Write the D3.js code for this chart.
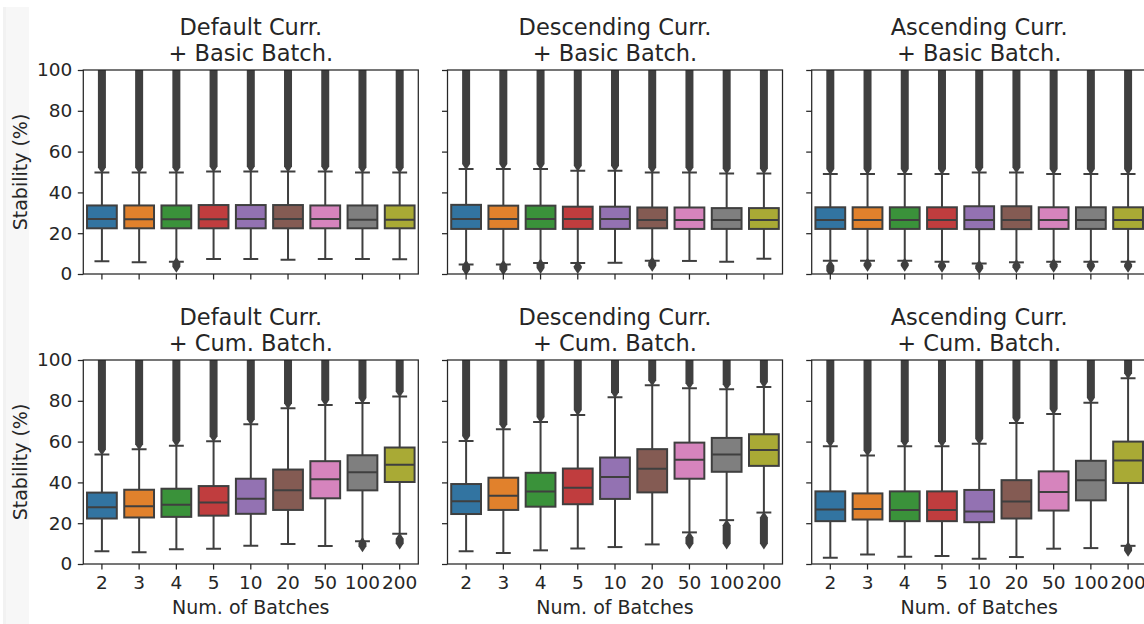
<!DOCTYPE html>
<html>
<head>
<meta charset="utf-8">
<script src="https://cdn.jsdelivr.net/npm/d3@7"></script>
<style>
  html, body { margin: 0; padding: 0; background: #ffffff; }
  svg { display: block; }
  text { font-family: "DejaVu Sans", sans-serif; fill: #262626; }
</style>
</head>
<body>
<svg id="chart" width="1144" height="624"></svg>
<script>
// Batch counts on the x axis
const categories = ["2", "3", "4", "5", "10", "20", "50", "100", "200"];

// Panel titles (two lines each), row-major: basic batching on top, cumulative below
const panelTitles = [
  ["Default Curr.", "+ Basic Batch."],
  ["Descending Curr.", "+ Basic Batch."],
  ["Ascending Curr.", "+ Basic Batch."],
  ["Default Curr.", "+ Cum. Batch."],
  ["Descending Curr.", "+ Cum. Batch."],
  ["Ascending Curr.", "+ Cum. Batch."]
];

const yTicks = [0, 20, 40, 60, 80, 100];

// Box statistics (stability %), one row per panel, one value per batch count
const q1s = [
  [22.4, 22.4, 22.4, 22.4, 22.4, 22.4, 22.4, 22.4, 22.4],
  [22.1, 22.1, 22.1, 22.1, 22.1, 22.4, 22.1, 22.1, 22.1],
  [22.1, 22.1, 22.1, 22.1, 22.0, 22.0, 22.1, 22.1, 22.1],
  [22.3, 22.8, 23.1, 23.7, 24.6, 26.5, 32.2, 36.1, 40.2],
  [24.5, 26.5, 28.1, 29.3, 31.9, 35.1, 41.8, 45.2, 48.1],
  [21.0, 21.8, 21.0, 21.0, 20.5, 22.3, 26.2, 31.2, 39.7]
];
const medians = [
  [27.0, 26.8, 26.8, 26.8, 27.0, 27.0, 27.0, 26.6, 26.6],
  [27.0, 27.0, 27.0, 27.0, 27.0, 26.5, 26.5, 26.5, 26.5],
  [26.5, 26.5, 26.5, 26.5, 26.5, 26.5, 26.5, 26.5, 26.5],
  [27.8, 28.3, 29.1, 30.1, 32.0, 36.1, 41.6, 45.0, 48.6],
  [30.7, 33.5, 35.6, 37.4, 42.6, 46.7, 51.1, 53.7, 55.9],
  [26.7, 27.0, 26.5, 26.5, 25.7, 30.6, 35.3, 41.0, 50.7]
];
const q3s = [
  [33.6, 33.6, 33.6, 33.8, 33.8, 33.8, 33.6, 33.6, 33.6],
  [33.9, 33.5, 33.5, 33.0, 33.0, 32.6, 32.6, 32.3, 32.3],
  [32.7, 32.7, 32.7, 32.7, 33.2, 33.2, 32.7, 32.7, 32.7],
  [35.0, 36.4, 36.9, 38.2, 41.8, 46.3, 50.4, 53.3, 57.1],
  [39.2, 42.3, 44.7, 46.8, 52.2, 56.3, 59.5, 61.8, 63.6],
  [35.6, 34.6, 35.6, 35.6, 36.3, 41.1, 45.4, 50.6, 60.0]
];
const whiskerLows = [
  [6.3, 5.8, 6.0, 7.3, 7.4, 7.0, 7.4, 7.4, 7.2],
  [4.6, 4.7, 5.4, 5.4, 5.5, 6.5, 6.4, 6.0, 7.5],
  [6.5, 6.5, 6.5, 6.0, 5.2, 5.7, 6.0, 6.0, 6.0],
  [6.3, 5.7, 7.2, 7.5, 8.9, 9.8, 8.8, 11.1, 14.8],
  [6.2, 5.4, 6.7, 7.6, 8.3, 9.6, 15.5, 21.5, 25.2],
  [3.1, 4.7, 3.6, 3.9, 2.6, 3.4, 7.5, 7.8, 8.9]
];
const whiskerHighs = [
  [49.7, 49.7, 49.7, 50.3, 50.3, 50.3, 50.3, 49.7, 49.7],
  [51.5, 51.5, 51.5, 50.6, 50.6, 49.7, 49.7, 49.3, 49.3],
  [49.0, 49.0, 49.0, 49.0, 49.7, 49.7, 49.0, 49.0, 49.0],
  [53.7, 56.3, 58.0, 60.2, 68.5, 76.4, 78.0, 78.9, 82.1],
  [60.3, 66.0, 69.6, 73.0, 81.8, 87.6, 86.2, 85.7, 86.8],
  [57.7, 53.2, 57.7, 57.7, 59.0, 69.1, 73.5, 79.0, 91.1]
];
// Outliers: lowest low outlier (null = none) and highest high outlier
const lowOutlierMins = [
  [null, null, 5.4, null, null, null, null, null, null],
  [4.0, 4.0, 4.6, 3.8, null, 5.6, null, null, null],
  [1.5, 5.0, 5.0, 4.4, 4.0, 4.4, 4.8, 4.6, 4.6],
  [null, null, null, null, null, null, null, 10.3, 10.0],
  [null, null, null, null, null, null, 10.1, 10.1, 10.1],
  [null, null, null, null, null, null, null, null, 8.1]
];
const highOutlierMaxes = [
  [100, 100, 100, 100, 100, 100, 100, 100, 100],
  [100, 100, 100, 100, 100, 100, 100, 100, 100],
  [100, 100, 100, 100, 100, 100, 100, 100, 100],
  [100, 100, 100, 100, 100, 100, 100, 100, 100],
  [100, 100, 100, 100, 100, 100, 100, 100, 100],
  [100, 100, 100, 100, 100, 100, 100, 100, 100]
];

// Desaturated tab10 palette, as seaborn draws boxes
const boxColors = ["#3274a1", "#e1812c", "#3a923a", "#c03d3e", "#9372b2",
                   "#845b53", "#d684bd", "#7f7f7f", "#a9aa35"];

// ---- layout ----
const colLefts = [83.3, 447.5, 811.7];
const rowTops = [70, 360];
const panelW = 335;
const panelH = 204;
const lineColor = "#3f3f3f";
const spineColor = "#262626";
const markW = 8, markH = 12;   // thin-diamond outlier marker size

const svg = d3.select("#chart");

// faint strip along the left edge
svg.append("rect").attr("x", 3).attr("y", 7).attr("width", 26).attr("height", 617).attr("fill", "#f7f7f7");
svg.append("rect").attr("x", 3).attr("y", 7).attr("width", 3).attr("height", 617).attr("fill", "#f2f2f2");

panelTitles.forEach((title, p) => {
  const row = Math.floor(p / 3), col = p % 3;
  const left = colLefts[col], top = rowTops[row];

  const x = d3.scaleBand().domain(categories).range([left, left + panelW]).padding(0);
  const y = d3.scaleLinear().domain([0, 100]).range([top + panelH, top]);
  const bw = x.bandwidth() * 0.8;

  const g = svg.append("g");
  const clipId = "clip" + p;
  svg.append("clipPath").attr("id", clipId)
    .append("rect").attr("x", left).attr("y", top).attr("width", panelW).attr("height", panelH);

  // title
  const tt = g.append("text").attr("text-anchor", "middle").style("font-size", "22.5px");
  tt.append("tspan").attr("x", left + panelW / 2).attr("y", top - 35).text(title[0]);
  tt.append("tspan").attr("x", left + panelW / 2).attr("y", top - 9.5).text(title[1]);

  const plot = g.append("g").attr("clip-path", `url(#${clipId})`);

  categories.forEach((c, i) => {
    const cx = x(c) + x.bandwidth() / 2;
    const q1 = q1s[p][i], med = medians[p][i], q3 = q3s[p][i];
    const wl = whiskerLows[p][i], wh = whiskerHighs[p][i];

    // whiskers
    plot.append("line").attr("x1", cx).attr("x2", cx).attr("y1", y(q3)).attr("y2", y(wh))
      .attr("stroke", lineColor).attr("stroke-width", 2);
    plot.append("line").attr("x1", cx).attr("x2", cx).attr("y1", y(q1)).attr("y2", y(wl))
      .attr("stroke", lineColor).attr("stroke-width", 2);
    // caps
    [wl, wh].forEach(v => {
      plot.append("line").attr("x1", cx - bw / 4).attr("x2", cx + bw / 4)
        .attr("y1", y(v)).attr("y2", y(v))
        .attr("stroke", lineColor).attr("stroke-width", 2);
    });
    // box
    plot.append("rect").attr("x", cx - bw / 2).attr("y", y(q3))
      .attr("width", bw).attr("height", y(q1) - y(q3))
      .attr("fill", boxColors[i]).attr("stroke", lineColor).attr("stroke-width", 2);
    // median
    plot.append("line").attr("x1", cx - bw / 2).attr("x2", cx + bw / 2)
      .attr("y1", y(med)).attr("y2", y(med))
      .attr("stroke", lineColor).attr("stroke-width", 2);

    // dense outlier runs drawn as the hull of stacked thin diamonds
    const column = (yTop, yBot) => {
      const pts = [
        [cx, yBot + markH / 2], [cx - markW / 2, yBot], [cx - markW / 2, yTop],
        [cx, yTop - markH / 2], [cx + markW / 2, yTop], [cx + markW / 2, yBot]
      ];
      plot.append("path").attr("d", d3.line()(pts) + "Z").attr("fill", lineColor);
    };
    // high outliers: from just above the upper cap up to the maximum
    column(y(highOutlierMaxes[p][i]), y(wh) - markH / 2 + 1);
    // low outliers
    const lm = lowOutlierMins[p][i];
    if (lm !== null) {
      const yTop = y(wl) + markH / 2 - 1;
      column(Math.min(yTop, y(lm)), Math.max(yTop, y(lm)));
    }
  });

  // frame
  g.append("rect").attr("x", left).attr("y", top).attr("width", panelW).attr("height", panelH)
    .attr("fill", "none").attr("stroke", spineColor).attr("stroke-width", 1.25);

  // y axis
  const yAxis = d3.axisLeft(y).tickValues(yTicks).tickSize(5.5).tickSizeOuter(0).tickPadding(5.5);
  if (col !== 0) yAxis.tickFormat(() => "");
  const ya = g.append("g").attr("transform", `translate(${left},0)`).call(yAxis);
  ya.select(".domain").remove();
  ya.selectAll(".tick line").attr("stroke", spineColor).attr("stroke-width", 1.25);
  ya.selectAll(".tick text").style("font-size", "18.5px")
    .style("font-family", "'DejaVu Sans', sans-serif").attr("fill", spineColor);

  // x axis
  const xAxis = d3.axisBottom(x).tickSize(5.5).tickSizeOuter(0).tickPadding(6);
  if (row === 0) xAxis.tickFormat(() => "");
  const xa = g.append("g").attr("transform", `translate(0,${top + panelH})`).call(xAxis);
  xa.select(".domain").remove();
  xa.selectAll(".tick line").attr("stroke", spineColor).attr("stroke-width", 1.25);
  xa.selectAll(".tick text").style("font-size", "18.5px")
    .style("font-family", "'DejaVu Sans', sans-serif").attr("fill", spineColor);

  // axis labels
  if (col === 0) {
    g.append("text").attr("text-anchor", "middle").style("font-size", "19px")
      .attr("transform", `translate(26.5,${top + panelH / 2}) rotate(-90)`)
      .text("Stability (%)");
  }
  if (row === 1) {
    g.append("text").attr("text-anchor", "middle").style("font-size", "19px")
      .attr("x", left + panelW / 2).attr("y", top + panelH + 49.5)
      .text("Num. of Batches");
  }
});
</script>
</body>
</html>
